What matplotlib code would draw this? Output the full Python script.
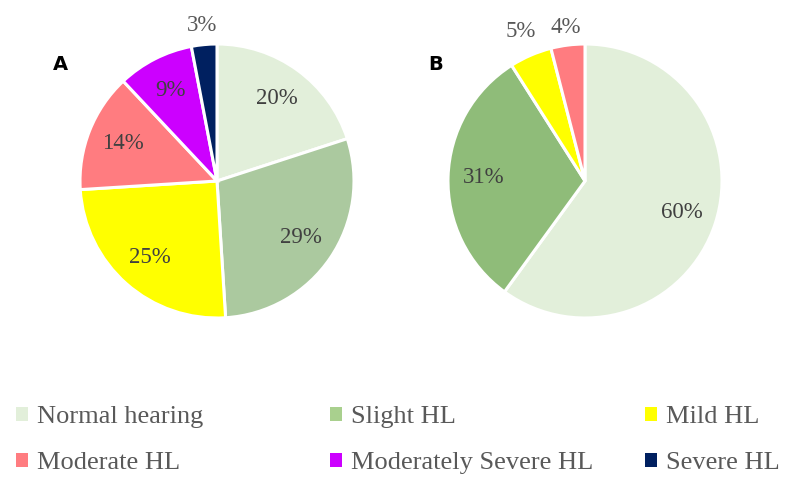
import numpy as np
import matplotlib
matplotlib.use("Agg")
import matplotlib.pyplot as plt
from matplotlib.patches import Patch

categories = ["Normal hearing", "Slight HL", "Mild HL",
              "Moderate HL", "Moderately Severe HL", "Severe HL"]
values_a = [20, 29, 25, 14, 9, 3]
values_b = [60, 31, 5, 4]

colors_a = ["#e2efda", "#abc99f", "#ffff00", "#ff7c80", "#cc00ff", "#002060"]
colors_b = ["#e2efda", "#8fbc79", "#ffff00", "#ff7c80"]
legend_colors = ["#e2efda", "#a9d08e", "#ffff00", "#ff7c80", "#cc00ff", "#002060"]

plt.rcParams["font.family"] = ["Liberation Serif", "DejaVu Serif"]

W, H = 789, 484
fig = plt.figure(figsize=(W / 100, H / 100), dpi=100)


def draw_pie(cx, cy, r, vals, cols, tag, outside):
    ax = fig.add_axes([(cx - r) / W, (H - cy - r) / H, 2 * r / W, 2 * r / H])
    wedges, texts, autotexts = ax.pie(
        vals, colors=cols, startangle=90, counterclock=False,
        autopct="%d%%", pctdistance=0.74,
        wedgeprops=dict(edgecolor="white", linewidth=2.2),
        textprops=dict(fontsize=16.5, color="#404040"))
    for w, t, v in zip(wedges, autotexts, vals):
        if v in outside:
            mid = np.deg2rad((w.theta1 + w.theta2) / 2)
            d = outside[v]
            t.set_position((d * np.cos(mid), d * np.sin(mid)))
            t.set_color("#595959")
            t.set_clip_on(False)
    ax.set_xlim(-1, 1)
    ax.set_ylim(-1, 1)
    ax.set_aspect("equal")
    ax.axis("off")
    fig.text(tag[1] / W, 1 - tag[2] / H, tag[0], fontsize=14, fontweight="bold",
             family="DejaVu Sans", ha="center", va="center")


draw_pie(217, 181, 137, values_a, colors_a, ("A", 60, 65), {3: 1.14})
draw_pie(585, 181, 137, values_b, colors_b, ("B", 436, 65), {5: 1.19, 4: 1.13})

# legend: two rows of three, one small legend per entry
col_x = [16, 330, 645]
row_y = [417, 463]
for i, name in enumerate(categories):
    x = col_x[i % 3]
    y = row_y[i // 3]
    fig.legend([Patch(facecolor=legend_colors[i], edgecolor="none")], [name],
               loc="center left", bbox_to_anchor=(x / W, 1 - y / H),
               frameon=False, fontsize=19, labelcolor="#595959",
               handlelength=0.45, handleheight=0.45, handletextpad=0.35,
               borderaxespad=0, borderpad=0)

fig.savefig("out.png", dpi=100, facecolor="white")
